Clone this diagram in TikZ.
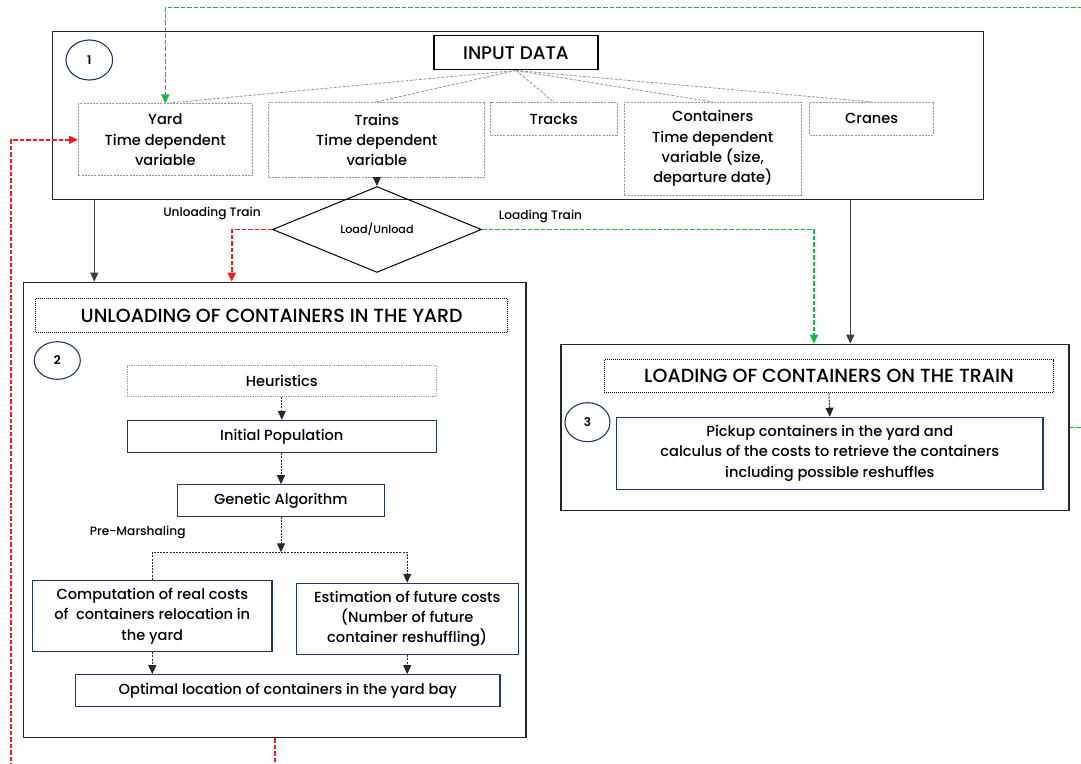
\documentclass[tikz,border=0pt]{standalone}
\usepackage{fontspec}
\setmainfont{Poppins}[UprightFont=* Medium, BoldFont=* SemiBold]
\usetikzlibrary{shapes.geometric,arrows.meta}
\definecolor{navy}{HTML}{1F3864}
\definecolor{ggreen}{HTML}{1DB446}
\definecolor{rred}{HTML}{F01A20}
\definecolor{boxgray}{HTML}{959595}
\begin{document}
\begin{tikzpicture}[x=1pt,y=-1pt,
  sz/.style 2 args={minimum width=#1pt, minimum height=#2pt},
  box/.style={rectangle, inner sep=0pt, align=center, font=\fontsize{14.6}{20.3}\selectfont},
  frame/.style={box, draw=black!85, line width=1.3pt},
  inbox/.style={box, draw=boxgray, dash pattern=on 2pt off 1.2pt, line width=0.8pt},
  dotbox/.style={box, draw=boxgray, dash pattern=on 1pt off 0.8pt, line width=0.9pt},
  bluebox/.style={box, draw=navy, line width=1.1pt},
  titlebox/.style={box, draw=black, dash pattern=on 1pt off 1pt, line width=1pt, font=\fontsize{19}{22}\selectfont},
  inputbox/.style={box, draw=black, line width=1.5pt, font=\fontsize{18.3}{22}\selectfont},
  numc/.style={ellipse, draw=navy, line width=1.1pt, inner sep=0pt, font=\bfseries\fontsize{12}{14}\selectfont},
  lbl/.style={inner sep=0pt, font=\fontsize{12.2}{14}\selectfont},
  tip/.style={-{Triangle[length=9pt,width=8pt]}},
  dasharr/.style={draw=black!85, dash pattern=on 2pt off 1.2pt, line width=1pt, tip},
  dashline/.style={draw=black!85, dash pattern=on 2pt off 1.2pt, line width=1pt},
  solidarr/.style={draw=black!75, line width=0.9pt, tip},
  grayline/.style={draw=boxgray, dash pattern=on 3pt off 1.5pt, line width=0.8pt},
  greenarr/.style={draw=ggreen, dash pattern=on 4.5pt off 2pt, line width=1.6pt, tip},
  redarr/.style={draw=rred, dash pattern=on 4.5pt off 2pt, line width=1.6pt, tip}]
\useasboundingbox (0,0) rectangle (1081,763);
\clip (0,0) rectangle (1081,763);

% ---- box 1
\node[frame, sz={931}{168}] (box1) at (518,115.8) {};
\node[numc, sz={46.6}{40}] (c1) at (89.3,60) {1};
\node[inputbox, sz={163.7}{34}] (input) at (515.9,52.7) {INPUT DATA};
\node[inbox, sz={174}{72}] (yard) at (165.3,139.8) {Yard\\Time dependent\\variable};
\node[inbox, sz={216}{75}] (trains) at (376.8,139.8) {Trains\\Time dependent\\variable};
\node[inbox, sz={126.3}{32.7}] (tracks) at (553.8,118.7) {Tracks};
\node[inbox, sz={177}{92.7}] (conts) at (712.8,148.7) {Containers\\Time dependent\\variable (size,\\departure date)};
\node[inbox, sz={124}{32.7}] (cranes) at (871.7,118.7) {Cranes};
\foreach \t in {yard,trains,tracks,conts,cranes}
  \draw[grayline] (input.south) -- (\t.north);

% ---- decision
\node[diamond, draw=black, line width=1pt, inner sep=0pt, sz={209}{61}, font=\fontsize{11.2}{13}\selectfont] (diam) at (377,229.5) {Load/Unload};
\draw[dasharr] (trains.south) -- (diam.north);
\node[lbl] (lunl) at (212,213.3) {Unloading Train};
\node[lbl] (lld) at (540.5,216.5) {Loading Train};

% ---- box 2
\node[frame, sz={502.3}{455.4}] (box2) at (274.8,510) {};
\node[titlebox, sz={472}{33.6}] (utitle) at (271.7,315.5) {UNLOADING OF CONTAINERS IN THE YARD};
\node[numc, sz={46}{37.6}] (c2) at (57.3,360.5) {2};
\node[dotbox, sz={309}{30.6}] (heur) at (281.8,381) {Heuristics};
\node[bluebox, sz={309}{32.4}] (initpop) at (281.8,436.5) {Initial Population};
\node[bluebox, sz={207}{31.6}] (ga) at (280.8,500.5) {Genetic Algorithm};
\node[lbl] (pm) at (137.7,532.3) {Pre-Marshaling};
\coordinate (jn) at (281,552.3);
\node[bluebox, sz={239.3}{71.4}] (comp) at (152.3,616) {Computation of real costs\\of\ \ containers relocation in\\the yard};
\node[bluebox, sz={222.3}{71.4}] (est) at (407.2,619) {Estimation of future costs\\(Number of future\\container reshuffling)};
\node[bluebox, sz={424.3}{32}] (opt) at (287.8,690.7) {Optimal location of containers in the yard bay};
\draw[dasharr] (heur.south) -- (initpop.north);
\draw[dasharr] (initpop.south -| jn) -- (ga.north -| jn);
\draw[dasharr] (ga.south -| jn) -- (jn);
\draw[dashline] (comp.north) |- (jn);
\draw[dasharr] (jn) -| (est.north);
\draw[dasharr] (comp.south) -- (comp.south |- opt.north);
\draw[dasharr] (est.south) -- (est.south |- opt.north);

% ---- box 3
\node[frame, sz={508}{166}] (box3) at (815,427.3) {};
\node[titlebox, sz={449.4}{32.7}] (ltitle) at (829,376.3) {LOADING OF CONTAINERS ON THE TRAIN};
\node[numc, sz={45}{39}] (c3) at (587.5,422.2) {3};
\node[bluebox, sz={426.3}{72}] (pickup) at (829.8,453.3) {Pickup containers in the yard and\\calculus of the costs to retrieve the containers\\including possible reshuffles};
\draw[dasharr] (ltitle.south) -- (pickup.north);

% ---- connectors between blocks
\coordinate (x1) at (94.3,0);
\coordinate (x3) at (850.3,0);
\coordinate (xr) at (231.7,0);
\coordinate (xg) at (814,0);
\draw[solidarr] (x1 |- box1.south) -- (x1 |- box2.north);
\draw[solidarr] (x3 |- box1.south) -- (x3 |- box3.north);
\draw[redarr] (diam.west) -| (xr |- box2.north);
\draw[greenarr] (diam.east) -| (xg |- box3.north);

% ---- feedback loops
\coordinate (gA) at (1100,7.5);
\draw[greenarr] (box3.east) -| (gA) -| (yard.north);
\coordinate (rB) at (10.7,790);
\draw[redarr] (box2.south) |- (rB) |- (yard.west);
\end{tikzpicture}
\end{document}
